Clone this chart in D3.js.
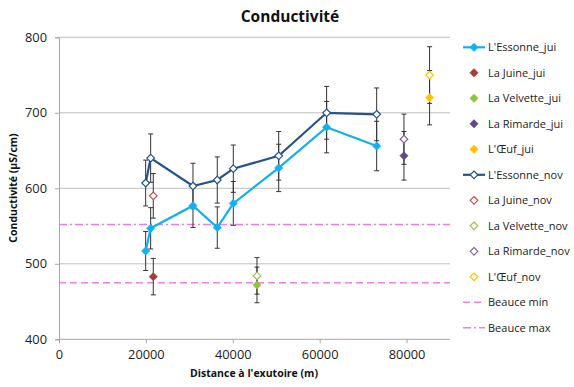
<!DOCTYPE html>
<html><head><meta charset="utf-8">
<script src="https://cdn.jsdelivr.net/npm/d3@7"></script>
<style>
body{margin:0;background:#fff;}
svg{display:block;font-family:"Open Sans",sans-serif;}
</style></head>
<body><svg id="c" width="574" height="387"></svg>
<script>
// ---- data ----
const essonneX = [19950, 21100, 30840, 36430, 40120, 50570, 61600, 73120];
const essonneJui = [517, 547, 577, 548, 580, 627, 681, 656];
const essonneNov = [607, 640, 603, 611, 626, 643, 700, 698];
const juineX = [21700];
const juineJui = [483];
const juineNov = [590];
const velvetteX = [45570];
const velvetteJui = [472];
const velvetteNov = [484];
const rimardeX = [79400];
const rimardeJui = [643];
const rimardeNov = [665];
const oeufX = [85300];
const oeufJui = [720];
const oeufNov = [750];
const beauceX = [0, 90000];
const beauceMin = [475, 475];
const beauceMax = [552, 552];
const errorPct = 5; // percentage error bars
const xTicks = [0, 20000, 40000, 60000, 80000];
const yTicks = [400, 500, 600, 700, 800];

const series = [
  {name:"L'Essonne_jui", x:essonneX, y:essonneJui, color:"#12b0ee", fill:true, line:true},
  {name:"La Juine_jui", x:juineX, y:juineJui, color:"#a43d3a", fill:true},
  {name:"La Velvette_jui", x:velvetteX, y:velvetteJui, color:"#8cc63e", fill:true},
  {name:"La Rimarde_jui", x:rimardeX, y:rimardeJui, color:"#624a80", fill:true},
  {name:"L'Œuf_jui", x:oeufX, y:oeufJui, color:"#ffc000", fill:true},
  {name:"L'Essonne_nov", x:essonneX, y:essonneNov, color:"#26538a", fill:false, line:true},
  {name:"La Juine_nov", x:juineX, y:juineNov, color:"#c0504d", fill:false},
  {name:"La Velvette_nov", x:velvetteX, y:velvetteNov, color:"#9bbb59", fill:false},
  {name:"La Rimarde_nov", x:rimardeX, y:rimardeNov, color:"#8064a2", fill:false},
  {name:"L'Œuf_nov", x:oeufX, y:oeufNov, color:"#ffc000", fill:false},
];
const refs = [
  {name:"Beauce min", x:beauceX, y:beauceMin, color:"#ee7fe8", dash:"7,4"},
  {name:"Beauce max", x:beauceX, y:beauceMax, color:"#ee7fe8", dash:"8,3,2,3"},
];

const svg = d3.select("#c");
const x = d3.scaleLinear().domain([0, 90000]).range([59, 450]);
const y = d3.scaleLinear().domain([400, 800]).range([339.3, 37.3]);

// gridlines
svg.append("g").selectAll("line").data(yTicks.filter(t=>t>400)).join("line")
  .attr("x1", x(0)).attr("x2", x(90000)).attr("y1", d=>y(d)).attr("y2", d=>y(d))
  .attr("stroke", "#bfbfbf").attr("stroke-width", 1);

// axes
const gx = svg.append("g").attr("transform", `translate(0,${y(400)})`)
  .call(d3.axisBottom(x).tickValues(xTicks).tickSize(4).tickPadding(7).tickFormat(d3.format("d")));
const gy = svg.append("g").attr("transform", `translate(${x(0)},0)`)
  .call(d3.axisLeft(y).tickValues(yTicks).tickSize(4).tickPadding(8).tickFormat(d3.format("d")));
[gx, gy].forEach(g=>{
  g.select(".domain").attr("stroke", "#a6a6a6");
  g.selectAll(".tick line").attr("stroke", "#a6a6a6");
  g.selectAll(".tick text").attr("fill", "#222").style("font-size", "12.8px").style("font-family", "'Open Sans',sans-serif");
});
gx.select(".domain").attr("d", `M${x(0)},0H${x(90000)}`);

// reference lines
refs.forEach(r=>{
  svg.append("path").datum(r.x.map((v,i)=>[v, r.y[i]]))
    .attr("d", d3.line().x(d=>x(d[0])).y(d=>y(d[1])))
    .attr("fill","none").attr("stroke", r.color).attr("stroke-width", 1.6).attr("stroke-dasharray", r.dash);
});

// error bars
const eb = svg.append("g");
series.forEach(s=>{
  s.x.forEach((xv,i)=>{
    const v = s.y[i], e = v*errorPct/100;
    const cx = x(xv);
    eb.append("line").attr("x1",cx).attr("x2",cx).attr("y1",y(v-e)).attr("y2",y(v+e))
      .attr("stroke","#333").attr("stroke-width",1);
    [v-e, v+e].forEach(t=>eb.append("line").attr("x1",cx-2.5).attr("x2",cx+2.5).attr("y1",y(t)).attr("y2",y(t))
      .attr("stroke","#333").attr("stroke-width",1));
  });
});

// series lines
series.filter(s=>s.line).forEach(s=>{
  svg.append("path").datum(s.x.map((v,i)=>[v, s.y[i]]))
    .attr("d", d3.line().x(d=>x(d[0])).y(d=>y(d[1])))
    .attr("fill","none").attr("stroke", s.color).attr("stroke-width", 2.2);
});

function diamond(g, cx, cy, s){
  const r = s.fill ? 4.2 : 3.8;
  g.append("path").attr("d", `M${cx},${cy-r}L${cx+r},${cy}L${cx},${cy+r}L${cx-r},${cy}Z`)
    .attr("fill", s.fill ? s.color : "#fff").attr("stroke", s.color).attr("stroke-width", s.fill?0.5:1.2);
}
const mk = svg.append("g");
series.forEach(s=>{
  s.x.forEach((xv,i)=>diamond(mk, x(xv), y(s.y[i]), s));
});

// title
svg.append("text").attr("x", 290).attr("y", 22).attr("text-anchor","middle")
  .style("font-size","15.5px").style("font-weight","bold").attr("fill","#111").text("Conductivité");
svg.append("text").attr("x", 254).attr("y", 377).attr("text-anchor","middle")
  .style("font-size","10.5px").style("font-weight","bold").attr("fill","#111").text("Distance à l'exutoire (m)");
svg.append("text").attr("transform","translate(17,188) rotate(-90)").attr("text-anchor","middle")
  .style("font-size","10.5px").style("font-weight","bold").attr("fill","#111").text("Conductivité (µS/cm)");

// legend
const lg = svg.append("g");
const all = series.concat(refs);
all.forEach((s,i)=>{
  const yy = 47.3 + i*25.5;
  const g = lg.append("g");
  if (s.line) {
    g.append("line").attr("x1",463).attr("x2",485).attr("y1",yy).attr("y2",yy).attr("stroke",s.color).attr("stroke-width",2.2);
  }
  if (s.dash) {
    g.append("line").attr("x1",463).attr("x2",485).attr("y1",yy).attr("y2",yy).attr("stroke",s.color).attr("stroke-width",1.6).attr("stroke-dasharray", s.dash);
  } else {
    diamond(g, 474, yy, s);
  }
  g.append("text").attr("x",488).attr("y",yy+3.9).style("font-size","11px").attr("fill","#222").text(s.name);
});
</script></body></html>
